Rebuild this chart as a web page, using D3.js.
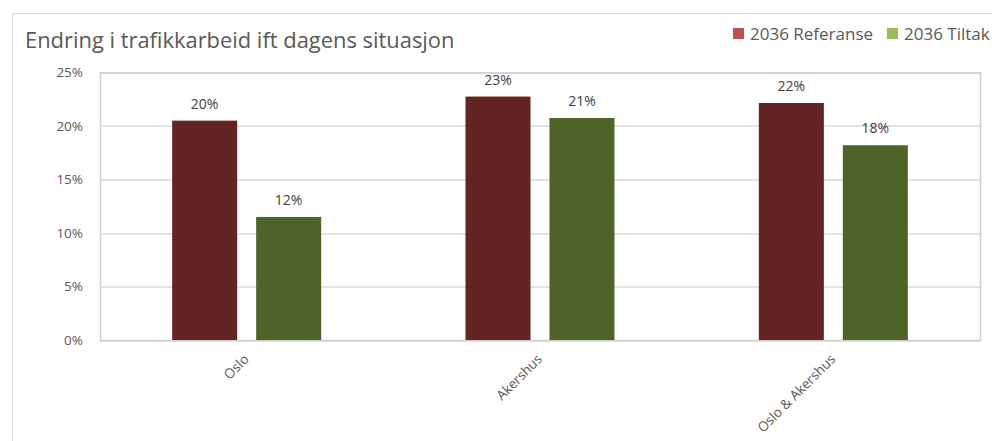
<!DOCTYPE html>
<html>
<head>
<meta charset="utf-8">
<script src="https://cdn.jsdelivr.net/npm/d3@7"></script>
<style>
  body { margin: 0; background: #fff; }
  svg { display: block; font-family: "Open Sans", sans-serif; }
</style>
</head>
<body>
<svg id="chart" width="992" height="441"></svg>
<script>
var categories = ["Oslo", "Akershus", "Oslo & Akershus"];
var seriesNames = ["2036 Referanse", "2036 Tiltak"];
var referanse = [20.5, 22.75, 22.15];
var tiltak = [11.5, 20.75, 18.2];
var labelsRef = ["20%", "23%", "22%"];
var labelsTil = ["12%", "21%", "18%"];
var yTicks = [0, 5, 10, 15, 20, 25];

var barColors = ["#632423", "#4f6228"];
var legendColors = ["#c0504d", "#9bbb59"];

var svg = d3.select("#chart"),
    margin = { top: 72.5, right: 12, bottom: 101, left: 100 },
    width = +svg.attr("width") - margin.left - margin.right,
    height = +svg.attr("height") - margin.top - margin.bottom;

// outer chart frame (only left and top edges are visible)
svg.append("path")
    .attr("d", "M12.5,441 V13.5 H992")
    .attr("fill", "none")
    .attr("stroke", "#d9d9d9");

svg.append("text")
    .attr("x", 25)
    .attr("y", 48)
    .attr("fill", "#595959")
    .style("font-size", "21.9px")
    .text("Endring i trafikkarbeid ift dagens situasjon");

var x0 = d3.scaleBand().domain(categories).range([0, width]);
var x1 = d3.scaleBand().domain([0, 1]).range([0, 149]).paddingInner(0.226);
var y = d3.scaleLinear().domain([0, 25]).range([height, 0]);

var g = svg.append("g").attr("transform", "translate(" + margin.left + "," + margin.top + ")");

// gridlines
g.append("g")
    .selectAll("line")
    .data(yTicks)
    .enter().append("line")
    .attr("x1", 0)
    .attr("x2", width)
    .attr("y1", function (d) { return Math.round(y(d)) + 0.5; })
    .attr("y2", function (d) { return Math.round(y(d)) + 0.5; })
    .attr("stroke", "#d9d9d9")
    .attr("stroke-width", 1.5);

// plot border
g.append("rect")
    .attr("x", 0.5)
    .attr("y", 0.5)
    .attr("width", width)
    .attr("height", height)
    .attr("fill", "none")
    .attr("stroke", "#cfcfcf")
    .attr("stroke-width", 1.5);

// y axis labels
var yAxis = g.append("g")
    .call(d3.axisLeft(y).tickValues(yTicks).tickSize(0).tickPadding(17)
        .tickFormat(function (d) { return d + "%"; }));
yAxis.select(".domain").remove();
yAxis.selectAll("text")
    .attr("fill", "#595959")
    .style("font-size", "13.5px")
    .style("font-family", '"Open Sans", sans-serif');

// x axis labels
var xAxis = g.append("g")
    .attr("transform", "translate(0," + height + ")")
    .call(d3.axisBottom(x0).tickSize(0).tickPadding(0));
xAxis.select(".domain").remove();
xAxis.selectAll("text")
    .attr("fill", "#595959")
    .style("font-size", "13.5px")
    .style("font-family", '"Open Sans", sans-serif')
    .attr("text-anchor", "end")
    .attr("dy", null)
    .attr("y", 0)
    .attr("transform", "translate(3,20) rotate(-45)");

var series = [referanse, tiltak];
var labels = [labelsRef, labelsTil];

series.forEach(function (vals, s) {
    var grp = g.append("g");
    grp.selectAll("rect")
        .data(vals)
        .enter().append("rect")
        .attr("x", function (d, i) { return x0(categories[i]) + (x0.bandwidth() - 149) / 2 + x1(s); })
        .attr("width", x1.bandwidth())
        .attr("y", function (d) { return y(d); })
        .attr("height", function (d) { return height - y(d); })
        .attr("fill", barColors[s]);

    grp.selectAll("text")
        .data(vals)
        .enter().append("text")
        .attr("x", function (d, i) { return x0(categories[i]) + (x0.bandwidth() - 149) / 2 + x1(s) + x1.bandwidth() / 2; })
        .attr("y", function (d) { return y(d) - 12; })
        .attr("text-anchor", "middle")
        .attr("fill", "#404040")
        .style("font-size", "14px")
        .text(function (d, i) { return labels[s][i]; });
});

// legend
var legend = svg.append("g").attr("transform", "translate(733,24)");
var lx = [0, 154];
seriesNames.forEach(function (name, i) {
    legend.append("rect")
        .attr("x", lx[i])
        .attr("y", 4)
        .attr("width", 11)
        .attr("height", 11)
        .attr("fill", legendColors[i]);
    legend.append("text")
        .attr("x", lx[i] + 17)
        .attr("y", 15.5)
        .attr("fill", "#595959")
        .style("font-size", "17px")
        .text(name);
});
</script>
</body>
</html>
